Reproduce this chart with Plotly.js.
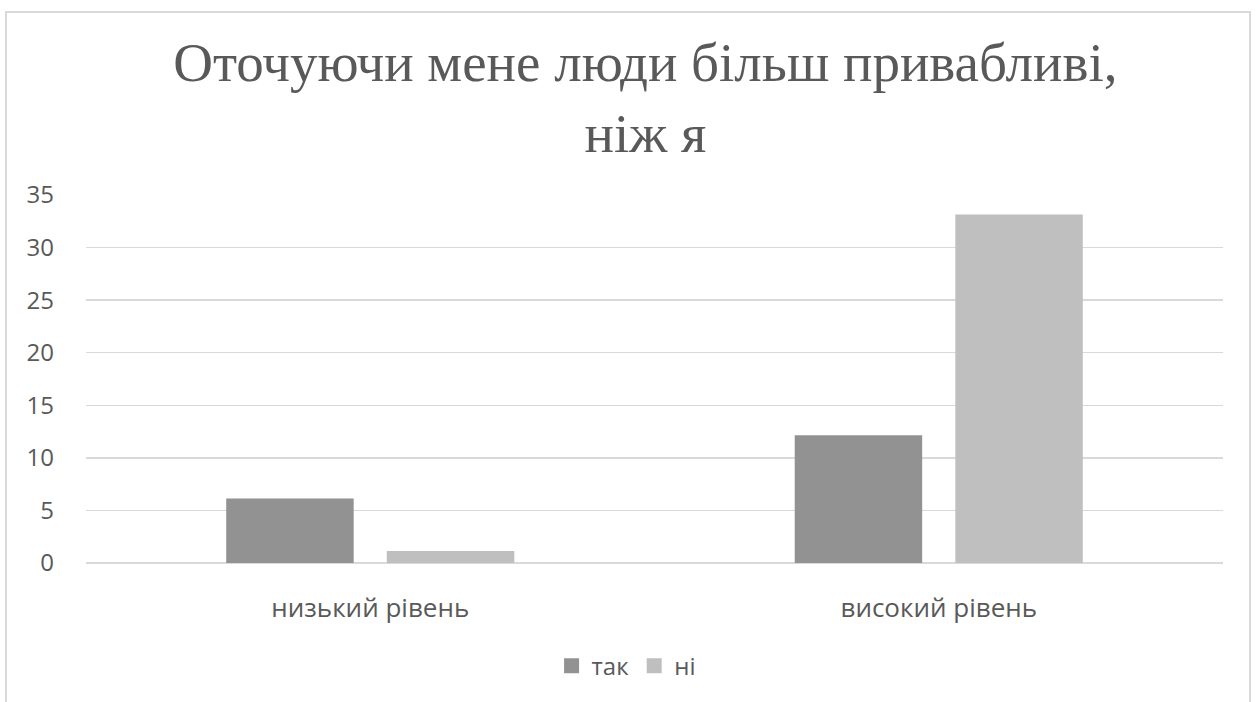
<!DOCTYPE html>
<html>
<head>
<meta charset="utf-8">
<script src="https://cdn.plot.ly/plotly-3.0.1.min.js"></script>
<style>
html,body{margin:0;padding:0;background:#fff;overflow:hidden;}
#frame{position:absolute;left:5px;top:11px;width:1246px;height:720px;border:2px solid #d9d9d9;box-sizing:border-box;}
#chart{position:absolute;left:0;top:0;width:1259px;height:702px;}
</style>
</head>
<body>
<div id="frame"></div>
<div id="chart"></div>
<script>
const categories = ["низький рівень", "високий рівень"];
const seriesNames = ["так", "ні"];
const takValues = [6, 12];
const niValues = [1, 33];
const yTicks = [0, 5, 10, 15, 20, 25, 30, 35];

const traces = [
  {type: 'bar', name: seriesNames[0], x: categories, y: takValues,
   marker: {color: '#929292', line: {color: '#929292', width: 3}}},
  {type: 'bar', name: seriesNames[1], x: categories, y: niValues,
   marker: {color: '#bfbfbf', line: {color: '#bfbfbf', width: 3}}}
];

const layout = {
  width: 1259, height: 702,
  paper_bgcolor: 'rgba(0,0,0,0)', plot_bgcolor: 'rgba(0,0,0,0)',
  margin: {l: 86, r: 36, t: 195, b: 139},
  barmode: 'group', bargap: 0.435, bargroupgap: 0.225,
  title: {
    text: 'Оточуючи мене люди більш привабливі,<br>ніж я\u00a0\u00a0',
    font: {family: 'Liberation Serif, Times New Roman, serif', size: 55, color: '#595959'},
    x: 0.492, xref: 'paper', xanchor: 'center',
    y: 0.885, yref: 'container', yanchor: 'top'
  },
  font: {family: 'Open Sans, sans-serif', color: '#595959', size: 22},
  xaxis: {
    showline: false, ticks: '', showgrid: false, zeroline: false,
    ticklabelstandoff: 27,
    tickfont: {family: 'Open Sans, sans-serif', size: 26, color: '#595959'}
  },
  yaxis: {
    range: [0, 35], tickvals: yTicks, showgrid: true, gridcolor: '#d9d9d9', gridwidth: 1.5,
    zeroline: true, zerolinecolor: '#d9d9d9', zerolinewidth: 1.5, showline: false, ticks: '',
    ticklabelstandoff: 31,
    tickfont: {family: 'Open Sans, sans-serif', size: 24, color: '#595959'}
  },
  legend: {
    orientation: 'h', x: 0.475, xanchor: 'center', y: -0.28, yanchor: 'middle',
    font: {family: 'Open Sans, sans-serif', size: 24, color: '#595959'},
    itemwidth: 30, traceorder: 'normal'
  },
  showlegend: true
};

Plotly.newPlot('chart', traces, layout, {displayModeBar: false, staticPlot: true});
</script>
</body>
</html>
